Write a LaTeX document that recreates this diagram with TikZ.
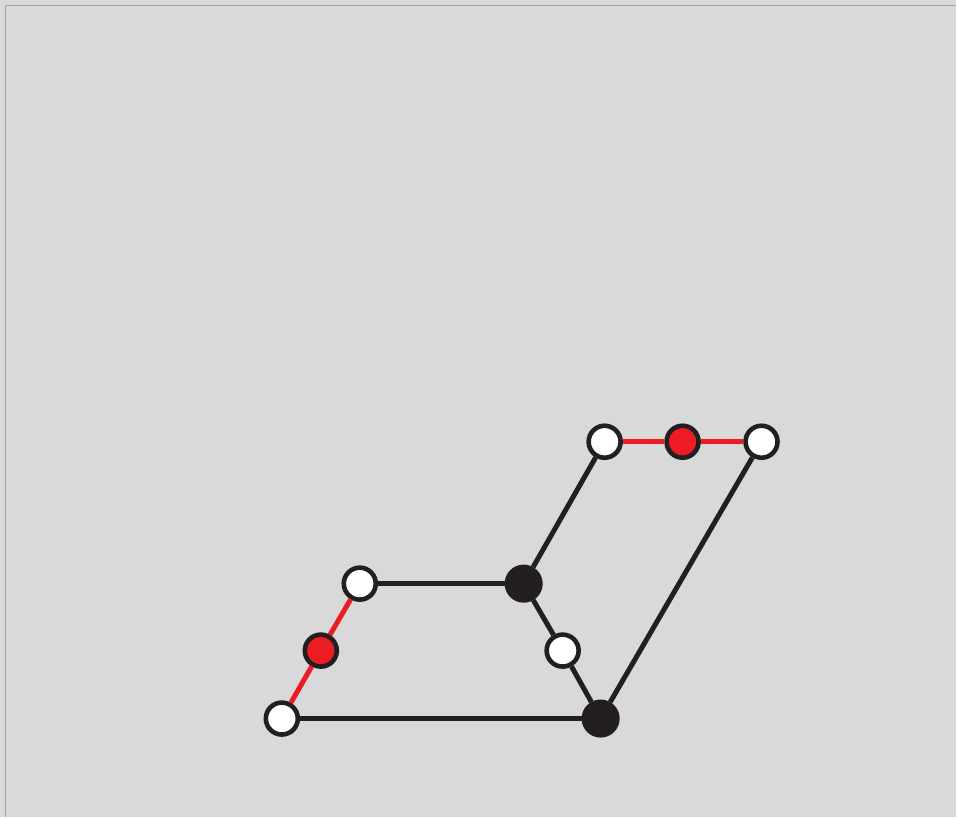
\documentclass[tikz,border=0pt]{standalone}
\usepackage{tikz}
\definecolor{bgray}{HTML}{D9D9D9}
\definecolor{fgray}{HTML}{A3A3A3}
\definecolor{ink}{HTML}{231F20}
\definecolor{hot}{HTML}{ED1C24}

\begin{document}
\begin{tikzpicture}[
  x=1pt,y=-1pt,
  dot/.style={circle,draw=ink,line width=4.6pt,minimum size=32pt,inner sep=0pt},
  opendot/.style={dot,fill=white},
  fulldot/.style={dot,fill=ink,minimum size=33.5pt},
  reddot/.style={dot,fill=hot},
  edge/.style={ink,line width=5pt},
  redge/.style={hot,line width=5pt}]
\fill[bgray] (0,0) rectangle (957,818);
\draw[fgray,line width=1.2pt] (5.5,818) -- (5.5,5.5) -- (957,5.5);
\useasboundingbox (0,0) rectangle (957,818);
\node[opendot] (a) at (282,719) {};
\node[reddot] (b) at (321,651) {};
\node[opendot] (c) at (360,584) {};
\node[fulldot] (d) at (524,584) {};
\node[opendot] (e) at (563,651) {};
\node[fulldot] (f) at (601,719) {};
\node[opendot] (g) at (605,442) {};
\node[reddot] (h) at (683,442) {};
\node[opendot] (i) at (762,442) {};
\draw[redge] (a) -- (b);
\draw[redge] (b) -- (c);
\draw[edge] (c) -- (d);
\draw[edge] (d) -- (e);
\draw[edge] (e) -- (f);
\draw[edge] (a) -- (f);
\draw[edge] (d) -- (g);
\draw[redge] (g) -- (h);
\draw[redge] (h) -- (i);
\draw[edge] (i) -- (f);
\end{tikzpicture}
\end{document}
